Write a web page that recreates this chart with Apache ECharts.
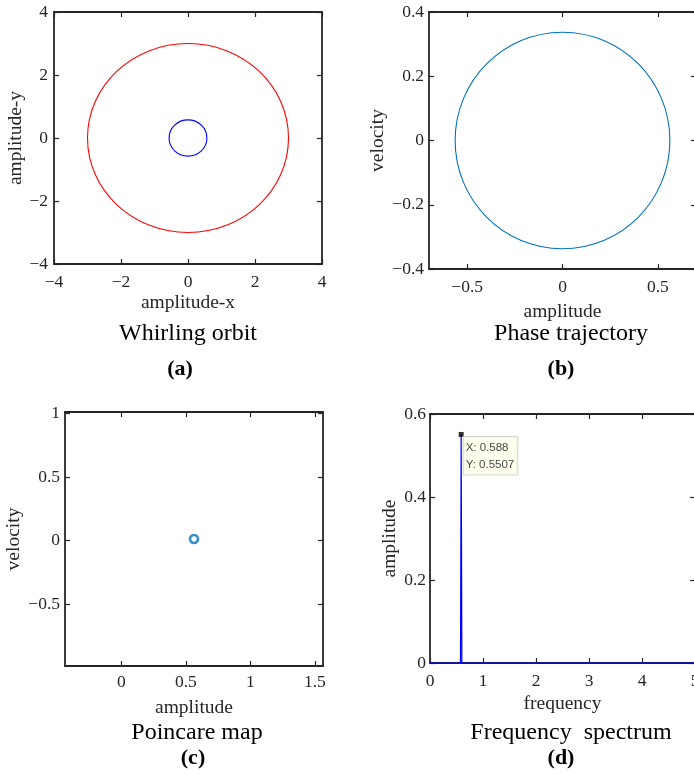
<!DOCTYPE html>
<html><head><meta charset="utf-8">
<script src="https://cdn.jsdelivr.net/npm/echarts@6/dist/echarts.min.js"></script>
<style>html,body{margin:0;padding:0;background:#fff}#c{width:694px;height:774px}</style>
</head><body><div id="c"></div>
<script>
// ---- data ----
// ellipses: [centerX, centerY, radiusX, radiusY]
const orbitOuter = [0, 0, 3.0, 3.0];
const orbitInner = [0, 0, 0.565, 0.575];
const phaseOrbit = [0, 0, 0.563, 0.337];
const poincarePoint = [0.563, 0.012];
const specFreq = [0, 0.575, 0.588, 0.601, 5];
const specAmp = [0, 0, 0.5507, 0, 0];
const peakFreq = 0.588;
const peakAmp = 0.5507;
const ticksAx = [-4, -2, 0, 2, 4];
const ticksAy = [-4, -2, 0, 2, 4];
const ticksBx = [-0.5, 0, 0.5];
const ticksBy = [-0.4, -0.2, 0, 0.2, 0.4];
const ticksCx = [0, 0.5, 1, 1.5];
const ticksCy = [-0.5, 0, 0.5, 1];
const ticksDx = [0, 1, 2, 3, 4, 5];
const ticksDy = [0, 0.2, 0.4, 0.6];

const FONT = 'Liberation Serif';
const AX = '#262626';
const fmt = v => String(+(+v).toFixed(4)).replace('-', '\u2212');

const gridBase = {outerBoundsMode: 'none', containLabel: false};
const grids = [
  Object.assign({left: 54, top: 12, width: 268, height: 252}, gridBase),
  Object.assign({left: 429, top: 12, width: 267, height: 257}, gridBase),
  Object.assign({left: 65, top: 412, width: 258, height: 254}, gridBase),
  Object.assign({left: 430, top: 414, width: 265, height: 249}, gridBase)
];

const xDefs = [
  {min: -4, max: 4, ticks: ticksAx, name: 'amplitude-x', gap: 29, margin: 9},
  {min: -0.7, max: 0.7, ticks: ticksBx, name: 'amplitude', gap: 33, margin: 9},
  {min: -0.437, max: 1.563, ticks: ticksCx, name: 'amplitude', gap: 31.5, margin: 7},
  {min: 0, max: 5, ticks: ticksDx, name: 'frequency', gap: 31, margin: 9}
];
const yDefs = [
  {min: -4, max: 4, ticks: ticksAy, name: 'amplitude-y', gap: 25, margin: 6},
  {min: -0.4, max: 0.4, ticks: ticksBy, name: 'velocity', gap: 33, margin: 5},
  {min: -0.988, max: 1.012, ticks: ticksCy, name: 'velocity', gap: 34, margin: 5},
  {min: 0, max: 0.6, ticks: ticksDy, name: 'amplitude', gap: 26, margin: 4}
];

function mkAxes(gi, o, isX) {
  const base = () => ({
    type: 'value', gridIndex: gi, min: o.min, max: o.max,
    splitLine: {show: false},
    axisLine: {show: true, onZero: false, lineStyle: {color: AX, width: 1.8}},
    axisTick: {show: true, inside: true, length: 5, customValues: o.ticks, lineStyle: {color: AX, width: 1.2}}
  });
  const main = base();
  main.position = isX ? 'bottom' : 'left';
  main.axisLabel = {show: true, fontFamily: FONT, fontSize: 17.5, color: AX, margin: o.margin,
    formatter: fmt, customValues: o.ticks};
  main.name = o.name;
  main.nameLocation = 'middle';
  main.nameGap = o.gap;
  main.nameTextStyle = {fontFamily: FONT, fontSize: 19.5, color: AX};
  const mirror = base();
  mirror.position = isX ? 'top' : 'right';
  mirror.axisLabel = {show: false};
  return [main, mirror];
}

const xAxis = [], yAxis = [];
for (let i = 0; i < 4; i++) {
  xAxis.push(...mkAxes(i, xDefs[i], true));
  yAxis.push(...mkAxes(i, yDefs[i], false));
}

function ellipseSeries(axisIdx, item, color) {
  return {
    type: 'custom', xAxisIndex: axisIdx, yAxisIndex: axisIdx, data: [item],
    renderItem: (params, api) => {
      const c = api.coord([api.value(0), api.value(1)]);
      const s = api.size([api.value(2), api.value(3)]);
      return {type: 'ellipse', shape: {cx: c[0], cy: c[1], rx: s[0], ry: s[1]},
        style: {fill: 'none', stroke: color, lineWidth: 1.1}};
    }
  };
}

const series = [
  ellipseSeries(0, orbitOuter, '#FF0000'),
  ellipseSeries(0, orbitInner, '#0000FF'),
  ellipseSeries(2, phaseOrbit, '#0072BD'),
  {type: 'scatter', xAxisIndex: 4, yAxisIndex: 4, data: [poincarePoint],
    symbol: 'circle', symbolSize: 8,
    itemStyle: {color: '#fff', borderColor: '#0072BD', borderWidth: 2.6}},
  {type: 'line', xAxisIndex: 6, yAxisIndex: 6, data: specFreq.map((f, i) => [f, specAmp[i]]),
    showSymbol: false, lineStyle: {color: '#0000FF', width: 1.2}, z: 3},
  {type: 'scatter', xAxisIndex: 6, yAxisIndex: 6, data: [[peakFreq, peakAmp]],
    symbol: 'rect', symbolSize: 5, itemStyle: {color: '#000'}, z: 5,
    label: {show: true, position: [5, 5], align: 'left', verticalAlign: 'top',
      formatter: 'X: ' + peakFreq + '\nY: ' + peakAmp,
      fontFamily: 'Liberation Sans', fontSize: 11.5, color: '#111', lineHeight: 17.3,
      backgroundColor: '#FFFFE8', borderColor: '#CCCCCC', borderWidth: 1, padding: [2, 3, 1, 2]}}
];

const txt = (x, y, s, size, bold) => ({type: 'text', x: x, y: y,
  style: {text: s, fontFamily: FONT, fontSize: size, fontWeight: bold ? 'bold' : 'normal',
    fill: '#000', align: 'center', verticalAlign: 'middle'}});

const graphic = [
  txt(188, 334, 'Whirling orbit', 24),
  txt(180, 369, '(a)', 22, true),
  txt(571, 334, 'Phase trajectory', 24),
  txt(561, 369, '(b)', 22, true),
  txt(197, 733, 'Poincare map', 24),
  txt(193, 758, '(c)', 22, true),
  txt(571, 733, 'Frequency  spectrum', 24),
  txt(561, 758, '(d)', 22, true)
];

const chart = echarts.init(document.getElementById('c'));
chart.setOption({animation: false, grid: grids, xAxis, yAxis, series, graphic});
</script></body></html>
